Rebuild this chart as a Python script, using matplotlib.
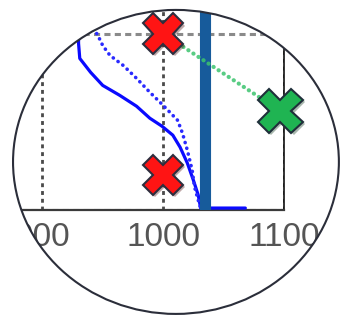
import matplotlib

matplotlib.use("Agg")
import matplotlib.patheffects as pe
import matplotlib.pyplot as plt
import numpy as np
from matplotlib.patches import Ellipse, PathPatch
from matplotlib.path import Path

# measured curve (solid) and model curve (dotted), x against level
solid_x = [930, 930, 931, 940, 950, 964, 978, 989, 999, 1008, 1014, 1020, 1025, 1029, 1031, 1068]
solid_y = [110, 94.4, 85.9, 78.0, 70.6, 65.0, 58.8, 52.0, 47.5, 42.4, 35.6, 26.6, 16.9, 8.5, 1.1, 1.1]
dotted_x = [945, 946, 950, 956, 967, 978, 989, 1000, 1012, 1016, 1020, 1024, 1026, 1029, 1031]
dotted_y = [100, 98.9, 93.2, 87.6, 81.9, 74.6, 66.7, 59.3, 50.8, 43.5, 33.9, 22.6, 13.0, 5.6, 1.1]

threshold = 1035

red_x = [1000, 1000]
red_y = [100, 20]
green_x = [1097]
green_y = [56]

xticks = [900, 1000, 1100]
yticks = [0, 100]

fig = plt.figure(figsize=(3.43, 3.20), dpi=100, facecolor="white")
ax = fig.add_axes([0.0, 0.34375, 0.828, 0.65625])
ax.set_xlim(865, 1100)
ax.set_ylim(0, 119)

ax.set_xticks(xticks)
ax.set_yticks(yticks)
ax.set_axisbelow(True)
ax.xaxis.grid(True, ls=(0, (1.4, 1.4)), color="#4a4a4a", lw=2.0)
ax.yaxis.grid(True, ls=(0, (2.0, 1.4)), color="#8a8a8a", lw=2.2)
ax.tick_params(axis="x", length=0, pad=9, labelsize=24, labelcolor="#555555")
ax.tick_params(axis="y", left=False, labelleft=False)
for lbl in ax.get_xticklabels():
    lbl.set_family(["Liberation Sans Narrow", "Liberation Sans"])
ax.spines["bottom"].set_color("#3a3a3a")
ax.spines["bottom"].set_linewidth(1.6)
ax.spines["right"].set_color("#111111")
ax.spines["right"].set_linewidth(1.2)

ax.plot(solid_x, solid_y, color="#0a0aff", lw=2.3, solid_capstyle="round", zorder=3)
ax.plot(dotted_x, dotted_y, color="#2a2aff", lw=2.6, ls=(0, (0.05, 1.6)),
        dash_capstyle="round", zorder=3)
ax.axvline(threshold, color="#175b9b", lw=8, zorder=4)

ax.plot([red_x[0], green_x[0]], [red_y[0], green_y[0]], color="#3cc46e", lw=3,
        ls=(0, (0.05, 1.4)), dash_capstyle="round", alpha=0.85, zorder=4, clip_on=False)

shadow = [pe.SimplePatchShadow(offset=(1.5, -1.5), alpha=0.35), pe.Normal()]
ax.plot(red_x, red_y, ls="none", marker="X", ms=29, mfc="#ff1414", mec="#2e2e3e",
        mew=1.5, zorder=5, path_effects=shadow, clip_on=False)
ax.plot(green_x, green_y, ls="none", marker="X", ms=32, mfc="#1fb452", mec="#1f2f3a",
        mew=1.5, zorder=5, path_effects=shadow, clip_on=False)

# white mask outside the lens, then the lens rim
cx, cy, r = 0.513, 0.494, 0.475
t = np.linspace(0, 2 * np.pi, 240)
rect = np.array([(-0.1, -0.1), (1.1, -0.1), (1.1, 1.1), (-0.1, 1.1), (-0.1, -0.1)])
ring = np.column_stack([cx + r * np.cos(-t), cy + r * np.sin(-t)])
verts = np.vstack([rect, ring])
codes = ([Path.MOVETO] + [Path.LINETO] * 3 + [Path.CLOSEPOLY]
         + [Path.MOVETO] + [Path.LINETO] * (len(ring) - 2) + [Path.CLOSEPOLY])
mask = PathPatch(Path(verts, codes), transform=fig.transFigure, facecolor="white",
                 edgecolor="none", zorder=10)
fig.add_artist(mask)
rim = Ellipse((cx, cy), 2 * r, 2 * r, transform=fig.transFigure, fill=False,
              edgecolor="#2b2e3a", lw=1.5, zorder=11)
fig.add_artist(rim)

fig.savefig("out.png", dpi=100, facecolor="white")
